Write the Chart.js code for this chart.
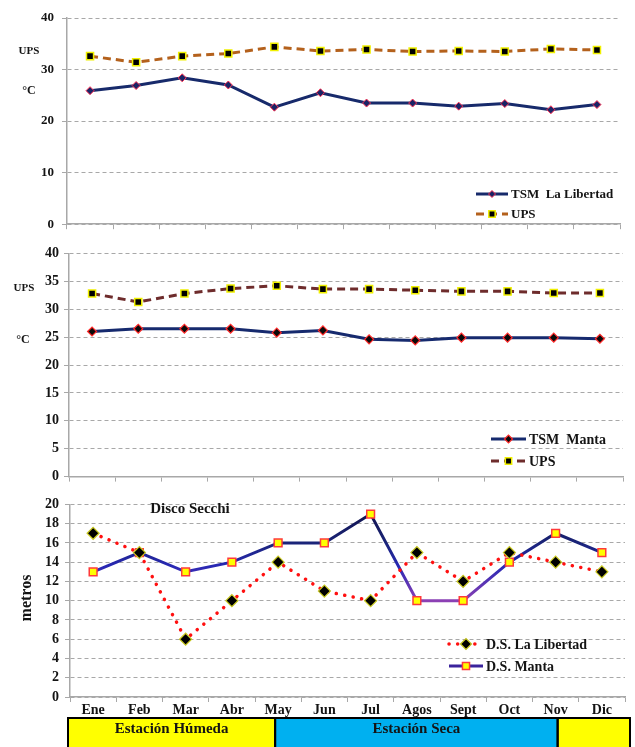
<!DOCTYPE html>
<html>
<head>
<meta charset="utf-8">
<script src="https://cdn.jsdelivr.net/npm/chart.js@4.4.1/dist/chart.umd.min.js"></script>
<style>
  html, body { margin: 0; padding: 0; background: #ffffff; }
  #wrap { position: relative; width: 635px; height: 747px; overflow: hidden; }
  canvas { position: absolute; left: 0; }
</style>
</head>
<body>
<div id="wrap">
  <canvas id="tsmLib" width="635" height="240" style="top:0;width:635px;height:240px"></canvas>
  <canvas id="tsmMan" width="635" height="250" style="top:240px;width:635px;height:250px"></canvas>
  <canvas id="secchi" width="635" height="257" style="top:490px;width:635px;height:257px"></canvas>
</div>
<script>
// Monthly series
const months = ['Ene', 'Feb', 'Mar', 'Abr', 'May', 'Jun', 'Jul', 'Agos', 'Sept', 'Oct', 'Nov', 'Dic'];

const tsmLibertad = [25.9, 26.9, 28.4, 27.0, 22.7, 25.5, 23.5, 23.5, 22.9, 23.4, 22.2, 23.2];
const upsLibertad = [32.6, 31.4, 32.6, 33.1, 34.4, 33.6, 33.9, 33.5, 33.6, 33.5, 34.0, 33.8];

const tsmManta = [26.0, 26.5, 26.5, 26.5, 25.8, 26.2, 24.6, 24.4, 24.9, 24.9, 24.9, 24.7];
const upsManta = [32.8, 31.3, 32.8, 33.7, 34.2, 33.6, 33.6, 33.4, 33.2, 33.2, 32.9, 32.9];

const dsLibertad = [17, 15, 6, 10, 14, 11, 10, 15, 12, 15, 14, 13];
const dsManta = [13, 15, 13, 14, 16, 16, 19, 10, 10, 14, 17, 15];

// Season band under the month axis: names and the month index where each band ends
const seasonNames = ['Estación Húmeda', 'Estación Seca', ''];
const seasonEnds = [4, 10, 11];

const SERIF = "'Liberation Serif', 'Times New Roman', serif";
const INK = '#141414';
const GRID = '#a8a8a8';

Chart.defaults.font.family = SERIF;
Chart.defaults.color = INK;

// Legend drawn inside the plot area
const insideLegend = {
  id: 'insideLegend',
  afterDraw(chart, args, opts) {
    if (!opts || opts.x === undefined) return;
    const ctx = chart.ctx;
    chart.data.datasets.forEach((ds, i) => {
      const y = opts.y + i * opts.rowGap;
      const x0 = opts.x, x1 = opts.x + opts.sample;
      ctx.save();
      ctx.strokeStyle = typeof ds.borderColor === 'string' ? ds.borderColor : opts.fallbackColor;
      ctx.lineWidth = ds.borderWidth;
      ctx.lineCap = ds.borderCapStyle || 'butt';
      ctx.setLineDash(ds.borderDash || []);
      ctx.beginPath();
      ctx.moveTo(x0, y);
      ctx.lineTo(x1, y);
      ctx.stroke();
      ctx.setLineDash([]);
      ctx.fillStyle = ds.pointBackgroundColor;
      ctx.strokeStyle = ds.pointBorderColor;
      ctx.lineWidth = ds.pointBorderWidth;
      Chart.helpers.drawPoint(ctx, {
        pointStyle: ds.pointStyle, radius: ds.pointRadius - 0.5,
        borderWidth: ds.pointBorderWidth, rotation: 0
      }, (x0 + x1) / 2, y);
      ctx.fillStyle = INK;
      ctx.font = 'bold ' + opts.fontSize + 'px ' + SERIF;
      ctx.textAlign = 'left';
      ctx.textBaseline = 'middle';
      ctx.fillText(ds.label, x1 + 3, y + 1);
      ctx.restore();
    });
  }
};

// Free text labels (units, titles)
const freeText = {
  id: 'freeText',
  afterDraw(chart, args, opts) {
    if (!opts || !opts.items) return;
    const ctx = chart.ctx;
    opts.items.forEach(t => {
      ctx.save();
      ctx.fillStyle = INK;
      ctx.font = 'bold ' + t.size + 'px ' + SERIF;
      ctx.textAlign = 'center';
      ctx.textBaseline = 'middle';
      ctx.translate(t.x, t.y);
      if (t.rotate) ctx.rotate(t.rotate);
      ctx.fillText(t.text, 0, 0);
      ctx.restore();
    });
  }
};

// Season band drawn below the month labels
const seasonBand = {
  id: 'seasonBand',
  afterDraw(chart, args, opts) {
    if (!opts || !opts.top) return;
    const ctx = chart.ctx;
    const xs = chart.scales.x;
    const area = chart.chartArea;
    const edges = [area.left - 2];
    seasonEnds.forEach((m, i) => {
      edges.push(i === seasonEnds.length - 1 ? area.right + 5 : xs.getPixelForValue(m) - (i === 0 ? 3 : -2));
    });
    const top = opts.top, h = chart.height - top + 3;
    ctx.save();
    seasonNames.forEach((name, i) => {
      ctx.fillStyle = opts.colors[i];
      ctx.fillRect(edges[i], top, edges[i + 1] - edges[i], h);
    });
    ctx.strokeStyle = '#000000';
    ctx.lineWidth = 2;
    seasonNames.forEach((name, i) => {
      ctx.strokeRect(edges[i], top, edges[i + 1] - edges[i], h);
    });
    ctx.fillStyle = INK;
    ctx.font = 'bold 15px ' + SERIF;
    ctx.textAlign = 'center';
    ctx.textBaseline = 'middle';
    seasonNames.forEach((name, i) => {
      if (name) ctx.fillText(name, (edges[i] + edges[i + 1]) / 2, top + 11);
    });
    ctx.restore();
  }
};

Chart.register(insideLegend, freeText, seasonBand);

function yAxis(max, step, width, fontSize, pad) {
  return {
    min: 0, max: max,
    ticks: { stepSize: step, autoSkip: false, color: INK, padding: pad, font: { size: fontSize, weight: 'bold' } },
    grid: { color: GRID, lineWidth: 1, tickLength: 5, drawTicks: true },
    border: { display: true, color: GRID, width: 1.5, dash: [4, 3] },
    afterFit(s) { s.width = width; }
  };
}

function xAxis(height, showLabels) {
  return {
    type: 'category', offset: true,
    grid: { offset: true, drawOnChartArea: false, drawTicks: true, tickLength: 5, color: GRID },
    border: { display: true, color: GRID, width: 1.5 },
    ticks: {
      display: showLabels, color: INK, padding: 0, autoSkip: false, maxRotation: 0,
      font: { size: 14, weight: 'bold' }
    },
    afterFit(s) { s.height = height; }
  };
}

function baseOptions(padding) {
  return {
    responsive: false, animation: false,
    layout: { padding: padding },
    plugins: { legend: { display: false }, tooltip: { enabled: false } },
    elements: { line: { tension: 0 } }
  };
}

// Panel 1: La Libertad temperature and salinity
const o1 = baseOptions({ left: 0, right: 15, top: 18, bottom: 0 });
o1.scales = { x: xAxis(8, false), y: yAxis(40, 10, 67, 13, 8) };
o1.plugins.insideLegend = { x: 476, y: 194, rowGap: 20, sample: 32, fontSize: 13 };
o1.plugins.freeText = { items: [
  { text: 'UPS', x: 29, y: 51, size: 11 },
  { text: '°C', x: 29, y: 91, size: 12 }
] };
new Chart(document.getElementById('tsmLib'), {
  type: 'line',
  data: {
    labels: months,
    datasets: [
      {
        label: 'TSM  La Libertad', data: tsmLibertad,
        borderColor: '#172a6b', borderWidth: 3,
        pointStyle: 'rectRot', pointRadius: 4, pointBorderWidth: 1,
        pointBackgroundColor: '#1a2466', pointBorderColor: '#ff3355'
      },
      {
        label: 'UPS', data: upsLibertad,
        borderColor: '#b4611c', borderWidth: 3, borderDash: [8, 5],
        pointStyle: 'rect', pointRadius: 5, pointBorderWidth: 1.5,
        pointBackgroundColor: '#000000', pointBorderColor: '#f0f000'
      }
    ]
  },
  options: o1
});

// Panel 2: Manta temperature and salinity
const o2 = baseOptions({ left: 0, right: 12, top: 12, bottom: 0 });
o2.scales = { x: xAxis(7, false), y: yAxis(40, 5, 69, 14, 5) };
o2.plugins.insideLegend = { x: 491, y: 199, rowGap: 22, sample: 35, fontSize: 14 };
o2.plugins.freeText = { items: [
  { text: 'UPS', x: 24, y: 48, size: 11 },
  { text: '°C', x: 23, y: 100, size: 12 }
] };
new Chart(document.getElementById('tsmMan'), {
  type: 'line',
  data: {
    labels: months,
    datasets: [
      {
        label: 'TSM  Manta', data: tsmManta,
        borderColor: '#162a6e', borderWidth: 3,
        pointStyle: 'rectRot', pointRadius: 4.5, pointBorderWidth: 1.2,
        pointBackgroundColor: '#0a0a0a', pointBorderColor: '#ff2a2a'
      },
      {
        label: 'UPS', data: upsManta,
        borderColor: '#6e2c2c', borderWidth: 3, borderDash: [8, 5],
        pointStyle: 'rect', pointRadius: 5, pointBorderWidth: 1.5,
        pointBackgroundColor: '#000000', pointBorderColor: '#f0f000'
      }
    ]
  },
  options: o2
});

// Panel 3: Secchi disk depth
const o3 = baseOptions({ left: 0, right: 10, top: 9, bottom: 0 });
o3.scales = { x: xAxis(50, true), y: yAxis(20, 2, 70, 14, 6) };
o3.plugins.insideLegend = { x: 449, y: 154, rowGap: 22, sample: 34, fontSize: 14, fallbackColor: '#3a239c' };
o3.plugins.freeText = { items: [
  { text: 'Disco Secchi', x: 190, y: 19, size: 15 },
  { text: 'metros', x: 27, y: 108, size: 16, rotate: -Math.PI / 2 }
] };
o3.plugins.seasonBand = { top: 228, colors: ['#ffff00', '#00b0f0', '#ffff00'] };

function mantaGradient(ctx) {
  const chart = ctx.chart;
  if (!chart.chartArea || !chart.scales.y) return '#1c2a8c';
  const y = chart.scales.y;
  const g = chart.ctx.createLinearGradient(0, y.getPixelForValue(19), 0, y.getPixelForValue(10));
  g.addColorStop(0, '#121450');
  g.addColorStop(0.33, '#1a2478');
  g.addColorStop(0.6, '#2828b4');
  g.addColorStop(1, '#8c40b4');
  return g;
}

new Chart(document.getElementById('secchi'), {
  type: 'line',
  data: {
    labels: months,
    datasets: [
      {
        label: 'D.S. La Libertad', data: dsLibertad,
        borderColor: '#ff1010', borderWidth: 3.5, borderDash: [0.1, 8.5], borderCapStyle: 'round',
        pointStyle: 'rectRot', pointRadius: 6, pointBorderWidth: 1.2,
        pointBackgroundColor: '#000000', pointBorderColor: '#c8c820'
      },
      {
        label: 'D.S. Manta', data: dsManta,
        borderColor: mantaGradient, borderWidth: 3,
        pointStyle: 'rect', pointRadius: 5.5, pointBorderWidth: 1.5,
        pointBackgroundColor: '#ffff00', pointBorderColor: '#ff3a3a'
      }
    ]
  },
  options: o3
});
</script>
</body>
</html>
